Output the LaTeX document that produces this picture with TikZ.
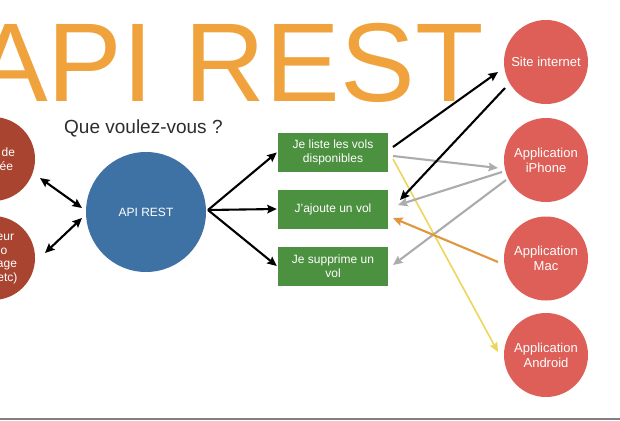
\documentclass[tikz,border=0pt]{standalone}
\usepackage{fontspec}
\setmainfont{Liberation Sans}
\usetikzlibrary{arrows.meta,calc}
\definecolor{titleor}{RGB}{240,162,60}
\definecolor{apiblue}{RGB}{62,113,164}
\definecolor{leftred}{RGB}{168,68,48}
\definecolor{siter}{RGB}{221,95,87}
\definecolor{boxg}{RGB}{76,145,64}
\definecolor{arrgray}{RGB}{170,172,174}
\definecolor{arror}{RGB}{224,150,60}
\definecolor{arryel}{RGB}{238,214,92}
\definecolor{txtdark}{RGB}{45,45,45}
\begin{document}
\begin{tikzpicture}[x=1pt,y=-1pt,
  tip/.style={-{Stealth[length=9.5pt,width=8.5pt,inset=1.5pt]}},
  arr/.style={line width=2.1pt,tip},
  dblarr/.style={line width=2.1pt,{Stealth[length=9.5pt,width=8.5pt,inset=1.5pt]}-{Stealth[length=9.5pt,width=8.5pt,inset=1.5pt]}},
  circr/.style={circle,fill=siter,text=white,minimum size=84pt,inner sep=0pt,align=center,font=\fontsize{13}{15}\selectfont},
  circl/.style={circle,fill=leftred,text=white,minimum size=84pt,inner sep=0pt,align=center,font=\fontsize{12}{13.5}\selectfont},
  greenbox/.style={rectangle,fill=boxg,text=white,minimum width=110pt,minimum height=39pt,inner sep=1pt,align=center,font=\fontsize{12}{14.5}\selectfont}]
\useasboundingbox (0,0) rectangle (620,420);
\fill[white] (0,0) rectangle (620,420);

% title
\node[anchor=base west,inner sep=0pt,text=titleor,font=\fontsize{112}{112}\selectfont] (title) at (-27,101) {API REST};
\node[anchor=base west,inner sep=0pt,text=txtdark,font=\fontsize{19}{19}\selectfont] (question) at (64,133) {Que voulez-vous ?};

% left circles
\node[circl] (db) at (-7,159) {Base de\\donnée};
\node[circl] (srv) at (-7,258) {Serveur\\vidéo\\stockage\\(S3...etc)};

% API circle
\node[circle,fill=apiblue,text=white,minimum size=120pt,inner sep=0pt,font=\fontsize{12}{14}\selectfont] (api) at (146,212) {API REST};

% green boxes
\node[greenbox] (box1) at (333,152.5) {Je liste les vols\\disponibles};
\node[greenbox] (box2) at (333,209) {J'ajoute un vol};
\node[greenbox] (box3) at (333,266) {Je supprime un\\vol};

% right circles
\node[circr] (site) at (546,62) {Site internet};
\node[circr] (iphone) at (546,160) {Application\\iPhone};
\node[circr] (mac) at (546,258.5) {Application\\Mac};
\node[circr] (android) at (546,355) {Application\\Android};

% left double arrows
\draw[dblarr] ($(db)+(47,19)$) -- ($(api)+(-64,-4)$);
\draw[dblarr] ($(api)+(-64,6)$) -- ($(srv)+(52,-5)$);

% api to boxes
\draw[arr] ($(api)+(62,-2)$) -- ($(box1.west)+(-1,0)$);
\draw[arr] ($(api)+(62,-2)$) -- ($(box2.west)+(-1,0)$);
\draw[arr] ($(api)+(62,-2)$) -- ($(box3.west)+(-1,0)$);

% yellow
\draw[arr,draw=arryel,fill=arryel,line width=1.6pt] ($(box1)+(60,6.5)$) -- ($(android)+(-48,-3)$);
% gray
\draw[arr,draw=arrgray] ($(box1)+(60,3.5)$) -- ($(iphone)+(-48,8)$);
\draw[arr,draw=arrgray] ($(iphone)+(-44,12)$) -- ($(box2)+(65,-4)$);
\draw[arr,draw=arrgray] ($(iphone)+(-40,20)$) -- ($(box3)+(60,-1)$);
% orange
\draw[arr,draw=arror] ($(mac)+(-48,3.5)$) -- ($(box2)+(60,9)$);
% black
\draw[arr] ($(box1)+(60,-5.5)$) -- ($(site)+(-48,10)$);
\draw[arr] ($(site)+(-41,26)$) -- ($(box2)+(67,-9)$);

% bottom rule
\draw[line width=2pt,draw=gray] (0,419) -- (620,419);
\end{tikzpicture}
\end{document}
